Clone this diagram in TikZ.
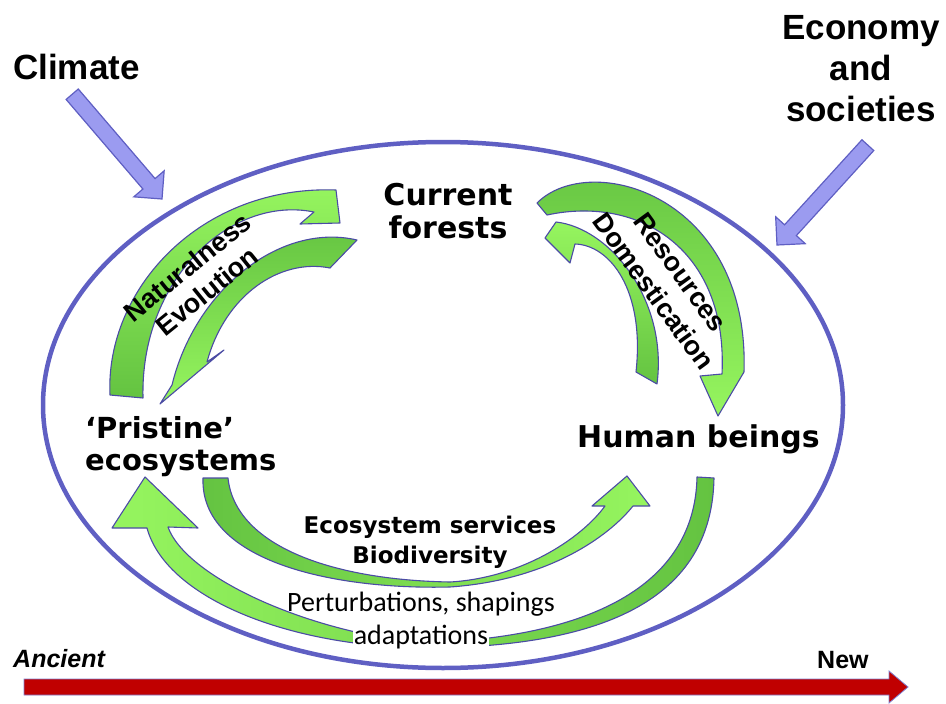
\documentclass[tikz,border=0pt]{standalone}
\usepackage{fontspec}
\newfontfamily\arialfont{Liberation Sans}
\newfontfamily\verafont{DejaVu Sans}
\newfontfamily\calibfont{Carlito}
\definecolor{leafhi}{RGB}{150,245,95}
\definecolor{leaflo}{RGB}{100,195,65}
\definecolor{rim}{RGB}{75,75,165}
\definecolor{ringblue}{RGB}{95,95,195}
\definecolor{pushfill}{RGB}{155,155,240}
\definecolor{timered}{RGB}{192,0,0}
\setlength{\fboxsep}{1pt}

\begin{document}
\begin{tikzpicture}[x=1pt,y=-1pt,
ring/.style={%
draw=ringblue,
line width=4.5pt
},
flow/.style={%
draw=rim,
line width=1.1pt,
line join=round
},
push/.style={%
draw=ringblue,
fill=pushfill,
line width=1.2pt,
line join=miter
},
timeline/.style={%
draw=ringblue!80,
fill=timered,
line width=0.8pt
},
force/.style={%
font=\arialfont\bfseries\fontsize{35}{41}\selectfont,
inner sep=0pt,
},
place/.style={%
font=\verafont\bfseries\fontsize{30}{33}\selectfont,
inner sep=0pt,
},
bendtext/.style={%
font=\arialfont\bfseries\fontsize{27}{31}\selectfont,
inner sep=0pt,
align=center,
},
era/.style={%
font=\arialfont\bfseries\fontsize{25}{30}\selectfont,
inner sep=0pt,
anchor=base west,
},
]
\useasboundingbox (0,0) rectangle (946,704);
%% Frame
\draw[ring] (443,405) ellipse [x radius=400pt, y radius=263pt];
%% Driving forces
\begin{scope}[shift={(162,199)},rotate=-49.4]
\draw[push] (0,0) -- (-20,-20) -- (-20,-8) -- (-138,-8) -- (-138,8) -- (-20,8) -- (-20,20) -- cycle;
\end{scope}
\begin{scope}[shift={(777,245)},rotate=-132.3]
\draw[push] (0,0) -- (-20,-20) -- (-20,-8) -- (-135,-8) -- (-135,8) -- (-20,8) -- (-20,20) -- cycle;
\end{scope}
\node[force,anchor=base west] (climate) at (13,79) {Climate};
\node[force,align=center,anchor=north] (economy) at (861,15) {Economy\\and\\societies};
%% Naturalness / evolution
\draw[flow,top color=leafhi,bottom color=leaflo]
(110,395) .. controls (105,290) and (200,185) .. (336,190)
-- (340,223) -- (300,224) -- (314,212)
.. controls (230,195) and (140,280) .. (143,398) -- cycle;
\draw[flow,top color=leaflo,bottom color=leafhi]
(357,240) .. controls (280,222) and (195,290) .. (172,385)
-- (160,404) -- (224,350) -- (207,362)
.. controls (225,295) and (280,258) .. (330,268) -- cycle;
%% Resources / domestication
\draw[flow,top color=leaflo,bottom color=leafhi]
(537,203) .. controls (590,150) and (750,195) .. (744,372)
-- (718,416) -- (700,376) -- (722,374)
.. controls (728,250) and (640,195) .. (547,215) -- cycle;
\draw[flow,top color=leafhi,bottom color=leaflo]
(657,384) .. controls (668,300) and (610,228) .. (556,222)
-- (545,238) -- (570,263) -- (575,244)
.. controls (610,245) and (645,290) .. (636,372) -- cycle;
%% Services / perturbations
\draw[flow,left color=leaflo,right color=leafhi]
(203,478) .. controls (200,560) and (330,590) .. (450,587)
.. controls (550,580) and (610,535) .. (633,506)
-- (650,506) -- (627,476) -- (592,506) -- (605,506)
.. controls (580,540) and (520,578) .. (450,582)
.. controls (330,580) and (235,545) .. (228,478) -- cycle;
\draw[flow,left color=leafhi,right color=leaflo]
(714,478) .. controls (712,590) and (620,648) .. (420,648)
.. controls (280,645) and (165,595) .. (147,528)
-- (112,528) -- (145,477) -- (198,528) -- (168,527)
.. controls (185,575) and (300,630) .. (420,643)
.. controls (600,638) and (695,580) .. (697,477) -- cycle;
%% Places
\node[place,align=center,anchor=north] (forests) at (448,183) {Current\\forests};
\node[place,align=left,anchor=north west,font=\verafont\bfseries\fontsize{29}{32}\selectfont] (pristine) at (85,416) {‘Pristine’\\ecosystems};
\node[place,anchor=base west] (human) at (577,447) {Human beings};
%% Links
\node[bendtext,rotate=39] (natural) at (197,279) {Naturalness\\Evolution};
\node[bendtext,rotate=-54,font=\arialfont\bfseries\fontsize{27}{33}\selectfont] (domestic) at (667,282) {Resources\\Domestication};
\node[inner sep=0pt,align=center,anchor=north,font=\verafont\bfseries\fontsize{23}{30}\selectfont] (services) at (430,516) {Ecosystem services\\Biodiversity};
\node[inner sep=0pt,align=center,anchor=north,font=\calibfont\fontsize{28}{33}\selectfont] (perturb) at (421,592) {Perturbations, shapings\\\colorbox{white}{adaptations}};
%% Time axis
\draw[timeline] (24,679) -- (889,679) -- (889,671) -- (908,687) -- (889,703) -- (889,695) -- (24,695) -- cycle;
\node[era,font=\arialfont\bfseries\itshape\fontsize{25}{30}\selectfont] (ancient) at (13,667) {Ancient};
\node[era] (new) at (817,668) {New};
\end{tikzpicture}
\end{document}
